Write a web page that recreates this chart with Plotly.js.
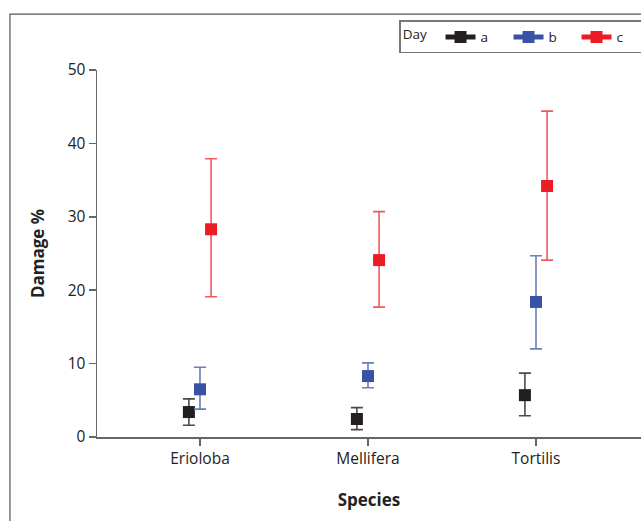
<!DOCTYPE html>
<html><head><meta charset="utf-8">
<script src="https://cdn.plot.ly/plotly-3.0.1.min.js"></script>
<style>body{margin:0;background:#fff}#c{width:641px;height:521px}</style>
</head><body><div id="c"></div>
<script>
const species = ["Erioloba", "Mellifera", "Tortilis"];
const days = ["a", "b", "c"];
const dayA = [3.4, 2.45, 5.7];
const dayAUp = [5.2, 4.0, 8.7];
const dayALow = [1.6, 1.0, 2.9];
const dayB = [6.5, 8.3, 18.4];
const dayBUp = [9.5, 10.1, 24.7];
const dayBLow = [3.8, 6.7, 12.0];
const dayC = [28.3, 24.1, 34.2];
const dayCUp = [37.9, 30.7, 44.4];
const dayCLow = [19.1, 17.7, 24.1];

const series = [
  {name: days[0], v: dayA, up: dayAUp, lo: dayALow, color: "#231f20", err: "#4a4a4a", off: -0.066},
  {name: days[1], v: dayB, up: dayBUp, lo: dayBLow, color: "#3953a4", err: "#6a7dbd", off: 0},
  {name: days[2], v: dayC, up: dayCUp, lo: dayCLow, color: "#ed1c24", err: "#f2575c", off: 0.066}
];

const traces = [];
series.forEach(s => {
  traces.push({
    type: "scatter", mode: "markers", name: s.name, showlegend: false, legendgroup: s.name,
    x: species.map((_, i) => i + s.off),
    y: s.v,
    marker: {symbol: "square", size: 12, color: s.color},
    error_y: {
      type: "data", symmetric: false,
      array: s.v.map((v, i) => s.up[i] - v),
      arrayminus: s.v.map((v, i) => v - s.lo[i]),
      color: s.err, thickness: 1.6, width: 6
    }
  });
});
series.forEach(s => {
  traces.push({
    type: "scatter", mode: "lines+markers", name: s.name, legendgroup: s.name,
    x: [null], y: [null],
    line: {color: s.color, width: 1.5},
    marker: {symbol: "square", size: 12, color: s.color}
  });
});

const font = "Open Sans, Liberation Sans, sans-serif";
const layout = {
  width: 641, height: 521,
  margin: {l: 97, r: 0, t: 70, b: 83.5, autoexpand: false},
  paper_bgcolor: "#fff", plot_bgcolor: "#fff",
  font: {family: font, size: 14, color: "#222"},
  showlegend: true,
  legend: {
    orientation: "h", x: 1.01, xanchor: "right", y: 1.135, yanchor: "top",
    bordercolor: "#777", borderwidth: 1.2, bgcolor: "#fff",
    title: {text: "Day  ", side: "left", font: {size: 13.5}},
    font: {size: 13.5}, entrywidth: 23, entrywidthmode: "pixels",
    itemsizing: "constant"
  },
  xaxis: {
    range: [-0.613, 2.625],
    tickmode: "array", tickvals: [0, 1, 2], ticktext: species,
    showgrid: false, zeroline: false,
    showline: true, linecolor: "#666", linewidth: 1.5,
    ticks: "outside", ticklen: 7, tickwidth: 1.5, tickcolor: "#666",
    tickfont: {size: 15.5, color: "#222"},
    title: {text: "<b>Species</b>", font: {size: 17, color: "#222"}, standoff: 26}
  },
  yaxis: {
    range: [0, 50],
    tickvals: [0, 10, 20, 30, 40, 50],
    showgrid: false, zeroline: false,
    showline: true, linecolor: "#666", linewidth: 1.5,
    ticks: "outside", ticklen: 7, tickwidth: 1.5, tickcolor: "#666",
    tickfont: {size: 15.5, color: "#222"},
    title: {text: "<b>Damage %</b>", font: {size: 17, color: "#222"}, standoff: 18}
  },
  shapes: [{
    type: "rect", xref: "paper", yref: "paper",
    x0: -0.16, x1: 1.2, y0: -0.5, y1: 1.152,
    line: {color: "#555", width: 1.2}, fillcolor: "rgba(0,0,0,0)", layer: "below"
  }]
};

Plotly.newPlot("c", traces, layout, {displayModeBar: false, staticPlot: true});
</script></body></html>
